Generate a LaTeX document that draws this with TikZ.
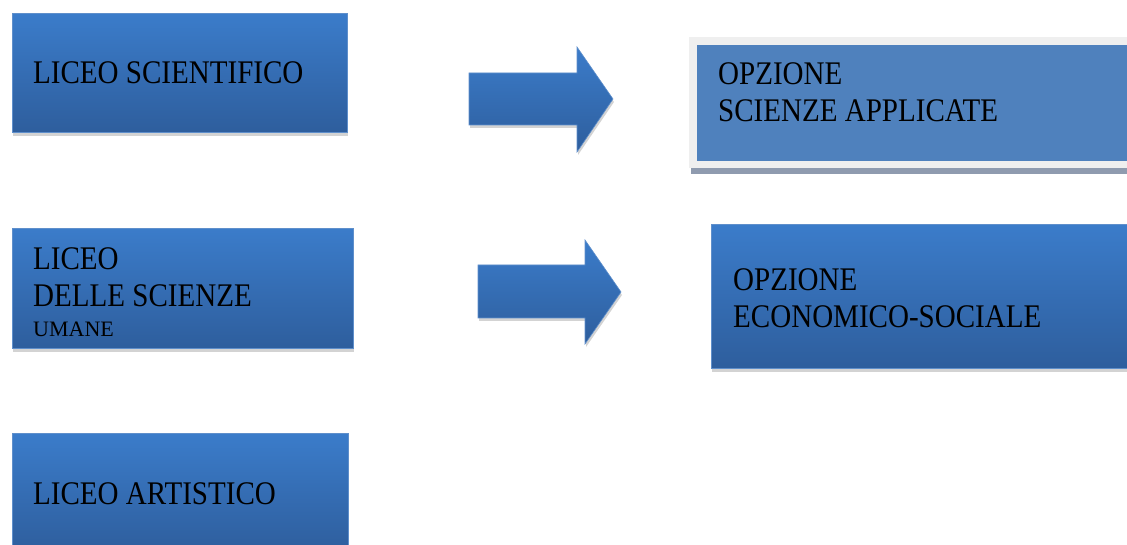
\documentclass[tikz,border=0pt]{standalone}
\usepackage{fontspec}
\setmainfont{Liberation Serif}
\usetikzlibrary{shadows}

\definecolor{bluetop}{HTML}{3B7CCA}
\definecolor{bluebot}{HTML}{2E5E9D}
\definecolor{boxedge}{HTML}{5F8FCB}
\definecolor{flatblue}{HTML}{4F81BD}
\definecolor{framegray}{HTML}{EFEFEF}
\definecolor{darkshadow}{HTML}{8F9BAF}
\definecolor{lightshadow}{HTML}{D3D3D3}

\newcommand{\nar}[1]{\scalebox{0.88}[1]{#1}}

\tikzset{
  libox/.style={shade, top color=bluetop, bottom color=bluebot, draw=boxedge,
    line width=0.8pt, anchor=north west, inner sep=0pt,
    drop shadow={shadow xshift=1pt, shadow yshift=-4pt, fill=lightshadow, opacity=1}},
  blockarrow/.style={shade, top color=bluetop, bottom color=bluebot, draw=boxedge,
    line width=0.6pt,
    drop shadow={shadow xshift=1pt, shadow yshift=-3pt, fill=lightshadow, opacity=1}},
  lbl/.style={font=\fontsize{33}{37}\selectfont, inner sep=0pt, align=left, anchor=west}
}

\begin{document}
\begin{tikzpicture}[x=1pt,y=1pt]
\useasboundingbox (0,0) rectangle (1127,-545);

% left column
\node[libox, minimum width=335pt, minimum height=119pt] (scient) at (12,-13) {};
\node[libox, minimum width=341pt, minimum height=120pt] (umane) at (12,-228) {};
\node[libox, minimum width=336pt, minimum height=119pt] (artist) at (12,-433) {};

% right column
\node[anchor=north west, fill=framegray, inner sep=0pt, minimum width=445pt, minimum height=131pt,
  drop shadow={shadow xshift=2pt, shadow yshift=-6pt, fill=darkshadow, opacity=1}] (applframe) at (689,-37) {};
\node[anchor=north west, fill=flatblue, inner sep=0pt, minimum width=440pt, minimum height=116pt] (appl) at (697,-45) {};
\node[libox, minimum width=425pt, minimum height=144pt] (econ) at (711,-224) {};

% arrows
\draw[blockarrow] (469,-73) -- ++(108,0) -- ++(0,26) -- ++(36,-52) -- ++(-36,-53) -- ++(0,27) -- ++(-108,0) -- cycle;
\draw[blockarrow] (478,-265) -- ++(107,0) -- ++(0,25) -- ++(36,-52) -- ++(-36,-52) -- ++(0,26) -- ++(-107,0) -- cycle;

% labels
\node[lbl] (tscient) at (33,-72.5) {\nar{LICEO SCIENTIFICO}};
\node[lbl] (tumane) at (33,-292.5) {\nar{LICEO}\\ \nar{DELLE SCIENZE}\\[-7pt] {\fontsize{22}{25}\selectfont UMANE}};
\node[lbl] (tartist) at (33,-494) {\nar{LICEO ARTISTICO}};
\node[lbl] (tappl) at (718,-92.5) {\nar{OPZIONE}\\ \nar{SCIENZE APPLICATE}};
\node[lbl] (tecon) at (733,-298.5) {\nar{OPZIONE}\\ \nar{ECONOMICO-SOCIALE}};
\end{tikzpicture}
\end{document}
